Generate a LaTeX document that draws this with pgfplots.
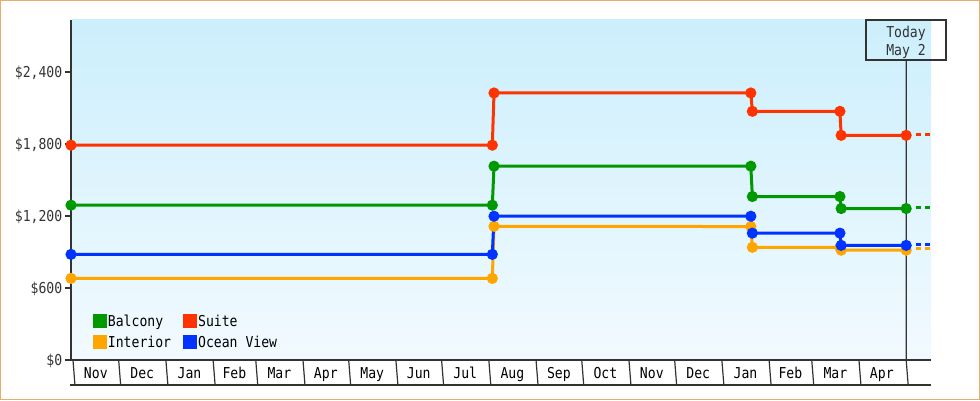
\documentclass[border=0pt]{standalone}
\usepackage{fontspec}
\setmainfont{DejaVu Sans Mono}[FakeStretch=0.875]
\usepackage{pgfplots}
\pgfplotsset{compat=1.18}
\definecolor{suite}{RGB}{255,51,0}
\definecolor{balcony}{RGB}{0,153,0}
\definecolor{interior}{RGB}{255,165,0}
\definecolor{ocean}{RGB}{0,51,255}
\definecolor{axisgray}{RGB}{51,51,51}
\definecolor{frameorange}{RGB}{235,172,105}
\definecolor{bgtop}{RGB}{204,239,252}
\definecolor{bgbot}{RGB}{242,250,255}
\newcommand{\chartfont}{\fontsize{15bp}{17bp}\selectfont}
\begin{document}
\begin{tikzpicture}[x=1bp,y=1bp]
\path[use as bounding box] (0,0) rectangle (980,400);
\fill[white] (0,0) rectangle (980,400);
\begin{axis}[
  at={(71bp,40bp)}, anchor=south west,
  scale only axis, width=860bp, height=340bp,
  xmin=-1.3, xmax=563.3, ymin=0, ymax=2833,
  clip=false,
  axis x line*=bottom, axis y line*=left,
  x axis line style={-, line width=1.3bp, draw=axisgray},
  y axis line style={-, line width=2.2bp, draw=axisgray},
  axis background/.style={shade, top color=bgtop, bottom color=bgbot},
  tick align=outside,
  major tick length=6bp,
  ytick={0,600,1200,1800,2400},
  yticklabels={\$0,\$600,{\$1,200},{\$1,800},{\$2,400}},
  ytick style={line width=2bp, draw=axisgray},
  yticklabel style={font=\chartfont, text=axisgray, inner sep=2.5bp, text height=11bp, text depth=0bp},
  xtick={15,45.5,76.5,106,135.5,166,196.5,227,257.5,288.5,319,349.5,380,410.5,441.5,471,500.5,531},
  xticklabels={Nov,Dec,Jan,Feb,Mar,Apr,May,Jun,Jul,Aug,Sep,Oct,Nov,Dec,Jan,Feb,Mar,Apr},
  xtick style={draw=none},
  xticklabel style={font=\chartfont, text=black, anchor=center, text height=11bp, text depth=0bp, inner sep=0pt, yshift=-7bp},
  legend columns=2,
  legend style={draw=none, fill=none, at={(0.0256,0.136)}, anchor=north west,
    inner sep=0pt, row sep=7.5bp, font=\chartfont, cells={anchor=center},
    nodes={inner xsep=1bp, inner ysep=0pt, text height=11bp, text depth=0bp},
    /tikz/every even column/.append style={column sep=11.3bp}},
  legend cell align=left,
  legend image code/.code={\fill[#1] (0bp,-5.35bp) rectangle (10.7bp,5.35bp);},
  mark size=4bp,
]
% today line and cell separators
\draw[axisgray, line width=1.2bp] (axis cs:547,2500) -- (axis cs:547,0) -- ++(0,-25bp);
\pgfplotsinvokeforeach{0,30,61,92,120,151,181,212,242,273,304,334,365,395,426,457,485,516}{
  \draw[axisgray, line width=1.2bp] (axis cs:#1,0) -- ++(0,-25bp);
}
\draw[axisgray, line width=1.2bp] (rel axis cs:0,0) ++(-1bp,-25bp) -- ([yshift=-25bp]rel axis cs:1,0);

\addplot[balcony, line width=3bp, mark=*, mark options={solid}] coordinates {
 (-1.3,1290) (275.3,1290) (276.4,1615) (445,1615) (446,1362) (503.5,1362) (504.3,1262) (547,1262)};
\addlegendentry{Balcony}
\addplot[suite, line width=3bp, mark=*, mark options={solid}] coordinates {
 (-1.3,1790) (275.3,1790) (276.4,2225) (445,2225) (446,2072) (503.5,2072) (504.3,1872) (547,1872)};
\addlegendentry{Suite}
\addplot[interior, line width=3bp, mark=*, mark options={solid}] coordinates {
 (-1.3,680) (275.3,680) (276.4,1114) (445,1112) (446,939) (503.5,939) (504.3,915) (547,915)};
\addlegendentry{Interior}
\addplot[ocean, line width=3bp, mark=*, mark options={solid}] coordinates {
 (-1.3,880) (275.3,880) (276.4,1198) (445,1198) (446,1057) (503.5,1057) (504.3,955) (547,955)};
\addlegendentry{Ocean View}

\addplot[forget plot, balcony, line width=3bp, dash pattern=on 5bp off 4bp] coordinates {(553.5,1269) (563.3,1269)};
\addplot[forget plot, suite, line width=3bp, dash pattern=on 5bp off 4bp] coordinates {(553.5,1880) (563.3,1880)};
\addplot[forget plot, interior, line width=3bp, dash pattern=on 5bp off 4bp] coordinates {(553.5,930) (563.3,930)};
\addplot[forget plot, ocean, line width=3bp, dash pattern=on 5bp off 4bp] coordinates {(553.5,961) (563.3,961)};
\end{axis}
% Today box
\draw[axisgray, line width=1.2bp] (866,340) rectangle (946,380);
\node[font=\chartfont, text=axisgray, inner sep=0pt, text height=11bp, text depth=0bp] at (906,367.8) {Today};
\node[font=\chartfont, text=axisgray, inner sep=0pt, text height=11bp, text depth=0bp] at (906,350) {May 2};
\draw[frameorange, line width=1.5bp] (0.75,0.75) rectangle (979.25,399.25);
\end{tikzpicture}
\end{document}
